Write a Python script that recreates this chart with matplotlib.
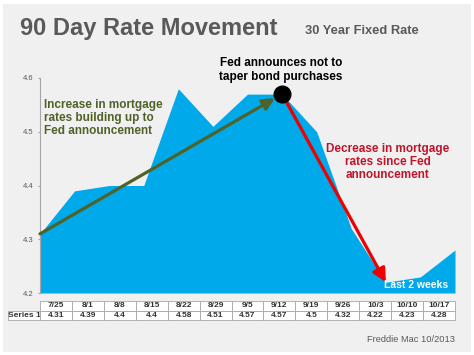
import matplotlib
matplotlib.use("Agg")
import matplotlib.pyplot as plt
from matplotlib.patches import Rectangle
from matplotlib.table import Table

# Data
weeks = ["7/25", "8/1", "8/8", "8/15", "8/22", "8/29", "9/5",
         "9/12", "9/19", "9/26", "10/3", "10/10", "10/17"]
rates = [4.31, 4.39, 4.4, 4.4, 4.58, 4.51, 4.57, 4.57, 4.5, 4.32, 4.22, 4.23, 4.28]
rate_labels = ["4.31", "4.39", "4.4", "4.4", "4.58", "4.51", "4.57",
               "4.57", "4.5", "4.32", "4.22", "4.23", "4.28"]
yticks = [4.2, 4.3, 4.4, 4.5, 4.6]
fed_idx = 7      # 9/12
low_idx = 10     # 10/3

plt.rcParams['font.family'] = ['Liberation Sans', 'DejaVu Sans']

W, H = 474, 355
fig = plt.figure(figsize=(W / 100, H / 100), dpi=100)
fig.patch.set_facecolor("white")

# grey panel behind everything
fig.patches.append(Rectangle((3 / W, 1 - 352 / H), 468 / W, 348 / H,
                             transform=fig.transFigure, facecolor="#f0f0f0",
                             edgecolor="none", zorder=-10))

def px(x, y):
    return x / W, 1 - y / H

ax = fig.add_axes([40 / W, 1 - 293 / H, 415 / W, 215 / H])
ax.set_facecolor("none")
x = list(range(len(weeks)))
ax.fill_between(x, rates, 4.2, color="#00a9ea", linewidth=0)
ax.set_xlim(0, len(weeks) - 1)
ax.set_ylim(4.2, 4.6)
ax.set_yticks(yticks)
ax.set_yticklabels([str(v) for v in yticks])
ax.set_xticks([])
for s in ["top", "right", "bottom"]:
    ax.spines[s].set_visible(False)
ax.spines["left"].set_color("#a6a6a6")
ax.spines["left"].set_linewidth(0.8)
ax.tick_params(axis="y", labelsize=5.5, labelcolor="#595959", color="#a6a6a6",
               length=1.5, pad=3)

# arrows and the Fed dot
ax.annotate("", xy=(fed_idx, rates[fed_idx]), xytext=(0, rates[0]),
            arrowprops=dict(arrowstyle="-|>,head_length=0.7,head_width=0.35",
                            color="#4f6228", lw=2.3, shrinkA=0, shrinkB=6,
                            mutation_scale=10), zorder=4)
ax.annotate("", xy=(low_idx, rates[low_idx]), xytext=(fed_idx, rates[fed_idx]),
            arrowprops=dict(arrowstyle="-|>,head_length=0.8,head_width=0.4",
                            color="#ee0000", lw=2.3, shrinkA=2, shrinkB=0,
                            mutation_scale=10), zorder=4)
ax.plot(fed_idx, rates[fed_idx], "o", ms=12, color="black", zorder=5, clip_on=False)

# data table below the chart
tbl = Table(ax, bbox=[-32 / 415, -27 / 215, 447 / 415, 19 / 215])
cw, ch = 1 / 14, 0.5
for j, wk in enumerate(weeks):
    tbl.add_cell(0, j + 1, cw, ch, text=wk, loc="center", facecolor="white")
    tbl.add_cell(1, j + 1, cw, ch, text=rate_labels[j], loc="center", facecolor="white")
tbl.add_cell(1, 0, cw, ch, text="Series 1", loc="center", facecolor="white")
tbl.auto_set_font_size(False)
tbl.set_fontsize(6)
for (r, c), cell in tbl.get_celld().items():
    cell.set_edgecolor("#a6a6a6")
    cell.set_linewidth(0.6)
    cell.PAD = 0.02
    cell.get_text().set_color("#333333")
    cell.get_text().set_fontweight("bold")
ax.add_table(tbl)

# texts
fig.text(*px(20, 29), "90 Day Rate Movement", fontsize=17, fontweight="bold",
         color="#595959", va="center", ha="left")
fig.text(*px(305, 31), "30 Year Fixed Rate", fontsize=9.3, fontweight="bold",
         color="#595959", va="center", ha="left")
fig.text(*px(281, 70), "Fed announces not to\ntaper bond purchases", fontsize=8.5,
         fontweight="bold", color="black", va="center", ha="center", linespacing=1.15)
fig.text(*px(44, 118), "Increase in mortgage\nrates building up to\nFed announcement",
         fontsize=8.5, fontweight="bold", color="#4f6228", va="center", ha="left",
         linespacing=1.15)
fig.text(*px(388, 162), "Decrease in mortgage\nrates since Fed\nannouncement",
         fontsize=8.5, fontweight="bold", color="#c0142a", va="center", ha="center",
         linespacing=1.15)
fig.text(*px(448, 285), "Last 2 weeks", fontsize=7.5, fontweight="bold",
         color="white", va="center", ha="right")
fig.text(*px(455, 340), "Freddie Mac 10/2013", fontsize=6.7, color="#595959",
         va="center", ha="right")

fig.savefig("out.png", dpi=100)
